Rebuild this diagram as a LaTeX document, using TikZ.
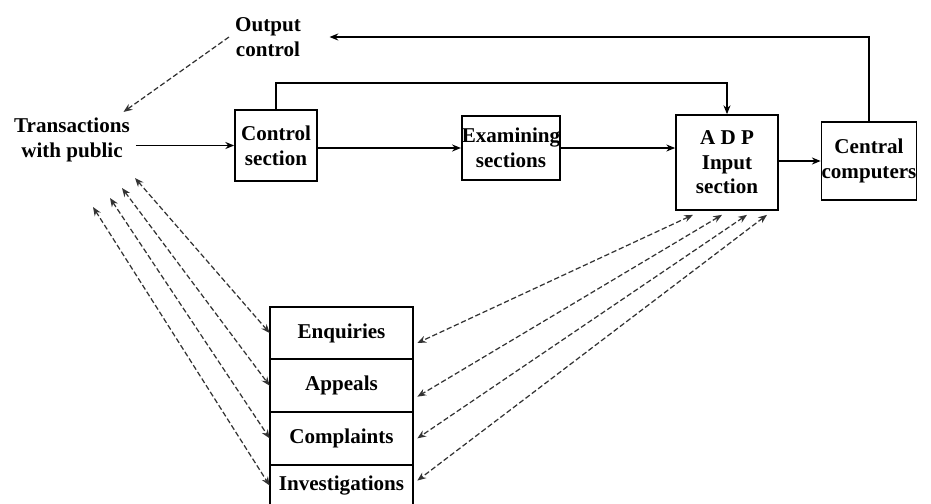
\documentclass[tikz,border=0pt]{standalone}
\usepackage{fontspec}
\setmainfont{Liberation Serif}
\usetikzlibrary{arrows.meta,positioning}
\begin{document}
\begin{tikzpicture}[x=0.02cm, y=-0.02cm, >={Stealth[length=5pt,width=4pt]},
  every node/.style={font=\bfseries\fontsize{12}{14}\selectfont, align=center},
  box/.style={draw, line width=1pt, inner xsep=0pt},
  entry/.style={minimum width=2.86cm, minimum height=1.04cm, inner sep=0pt},
  flow/.style={line width=0.9pt, ->},
  link/.style={line width=0.7pt, black!80, dash pattern=on 3pt off 1.5pt, <->}]
\useasboundingbox (0,0) rectangle (931,504);
\node (out) at (268,37) {Output\\control}; \node (trans) at (72,140) {Transactions\\with public};
\node[box, minimum width=1.64cm, minimum height=1.42cm] (ctrl) at (276,145.5) {Control\\section};
\node[box, minimum width=1.96cm, minimum height=1.28cm] (exam) at (511,148) {Examining\\sections};
\node[box, minimum width=2.04cm, minimum height=1.9cm] (adp) at (727,162.5) {A D P\\Input\\section};
\node[box, minimum width=1.76cm, minimum height=1.56cm] (cent) at (869,161) {Central\\computers};
\node[entry] (enq) at (341.5,333) {Enquiries}; \node[entry, below=0pt of enq] (app) {Appeals};
\node[entry, below=0pt of app] (comp) {Complaints}; \node[entry, below=0pt of comp, minimum height=0.82cm] (inv) {Investigations};
\draw[line width=1pt] (inv.south west) -- (enq.north west) -- (enq.north east) -- (inv.south east);
\foreach \e in {enq,app,comp} \draw[line width=1pt] (\e.south west) -- (\e.south east);
\draw[flow] (trans.east |- ctrl.west) -- (ctrl.west); \draw[flow] (ctrl.east |- exam.west) -- (exam.west);
\draw[flow] (exam.east) -- (exam.east -| adp.west); \draw[flow] (adp.east |- cent.west) -- (cent.west);
\draw[flow, shorten >=0.45cm] (cent.north) |- (out.east);
\coordinate (top) at (0,83); \draw[flow] (ctrl.north) -- (ctrl.north |- top) -| (adp.north);
\draw[link, -> ] (out.west) -- ([xshift=-0.25cm]trans.north east);
\coordinate (t1) at (135,178); \coordinate (t2) at (122,188); \coordinate (t3) at (110,198); \coordinate (t4) at (93,207);
\foreach \c/\e in {t1/enq, t2/app, t3/comp, t4/inv} \draw[link] (\c) -- (\e.west);
\foreach \dx/\e/\dy in {-0.68/enq/-0.2, -0.1/app/-0.22, 0.4/comp/0, 0.8/inv/0.1}
  \draw[link] ([xshift=\dx cm, yshift=-0.08cm]adp.south) -- ([xshift=0.08cm, yshift=\dy cm]\e.east);
\end{tikzpicture}
\end{document}
